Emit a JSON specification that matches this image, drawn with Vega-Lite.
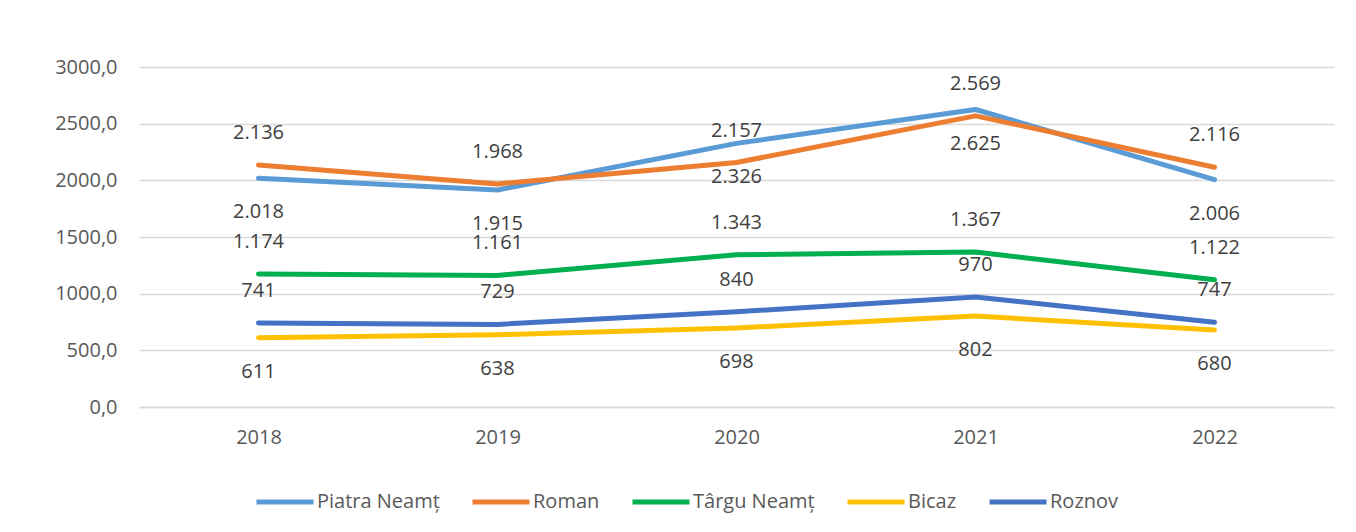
{
  "$schema": "https://vega.github.io/schema/vega-lite/v6.json",
  "width": 1195,
  "height": 340,
  "autosize": {"type": "none"},
  "padding": {"left": 139, "top": 67, "right": 22, "bottom": 125},
  "background": "white",
  "config": {
    "locale": {"number": {"decimal": ",", "thousands": ".", "grouping": [3], "currency": ["", ""]}},
    "view": {"stroke": null},
    "font": "Open Sans",
    "axis": {"labelFont": "Open Sans", "labelFontSize": 20, "labelColor": "#595959", "ticks": false, "title": null, "gridColor": "#D9D9D9", "gridWidth": 1.3}
  },
  "data": {
    "values": [
      {"series": "Piatra Neamț", "year": "2018", "value": 2018},
      {"series": "Piatra Neamț", "year": "2019", "value": 1915},
      {"series": "Piatra Neamț", "year": "2020", "value": 2326},
      {"series": "Piatra Neamț", "year": "2021", "value": 2625},
      {"series": "Piatra Neamț", "year": "2022", "value": 2006},
      {"series": "Roman", "year": "2018", "value": 2136},
      {"series": "Roman", "year": "2019", "value": 1968},
      {"series": "Roman", "year": "2020", "value": 2157},
      {"series": "Roman", "year": "2021", "value": 2569},
      {"series": "Roman", "year": "2022", "value": 2116},
      {"series": "Târgu Neamț", "year": "2018", "value": 1174},
      {"series": "Târgu Neamț", "year": "2019", "value": 1161},
      {"series": "Târgu Neamț", "year": "2020", "value": 1343},
      {"series": "Târgu Neamț", "year": "2021", "value": 1367},
      {"series": "Târgu Neamț", "year": "2022", "value": 1122},
      {"series": "Bicaz", "year": "2018", "value": 611},
      {"series": "Bicaz", "year": "2019", "value": 638},
      {"series": "Bicaz", "year": "2020", "value": 698},
      {"series": "Bicaz", "year": "2021", "value": 802},
      {"series": "Bicaz", "year": "2022", "value": 680},
      {"series": "Roznov", "year": "2018", "value": 741},
      {"series": "Roznov", "year": "2019", "value": 729},
      {"series": "Roznov", "year": "2020", "value": 840},
      {"series": "Roznov", "year": "2021", "value": 970},
      {"series": "Roznov", "year": "2022", "value": 747}
    ]
  },
  "encoding": {
    "x": {
      "field": "year", "type": "ordinal",
      "scale": {"type": "point", "padding": 0.5},
      "axis": {"labelAngle": 0, "labelPadding": 20, "domain": true, "domainColor": "#D9D9D9", "domainWidth": 1.3, "grid": false}
    },
    "y": {
      "field": "value", "type": "quantitative",
      "scale": {"domain": [0, 3000], "nice": false},
      "axis": {"values": [0, 500, 1000, 1500, 2000, 2500, 3000], "format": ".1f", "domain": false, "labelPadding": 22, "grid": true}
    }
  },
  "layer": [
    {
      "mark": {"type": "line", "strokeWidth": 5, "strokeCap": "round", "strokeJoin": "round"},
      "encoding": {
        "color": {
          "field": "series", "type": "nominal",
          "scale": {
            "domain": ["Piatra Neamț", "Roman", "Târgu Neamț", "Bicaz", "Roznov"],
            "range": ["#5B9BD5", "#ED7D31", "#00B050", "#FFC000", "#4472C4"]
          },
          "legend": {
            "orient": "none", "legendX": 115, "legendY": 404, "direction": "horizontal",
            "title": null, "symbolType": "stroke", "symbolSize": 3249, "symbolStrokeWidth": 5,
            "labelFont": "Open Sans", "labelFontSize": 20, "labelColor": "#595959", "labelOffset": 1,
            "columnPadding": 22, "padding": 0
          }
        }
      }
    },
    {
      "transform": [{"filter": {"field": "series", "oneOf": ["Roman", "Târgu Neamț", "Roznov"]}}],
      "mark": {"type": "text", "dy": -32, "fontSize": 20, "color": "#404040", "font": "Open Sans"},
      "encoding": {"text": {"field": "value", "type": "quantitative", "format": ",d"}}
    },
    {
      "transform": [{"filter": {"field": "series", "oneOf": ["Piatra Neamț", "Bicaz"]}}],
      "mark": {"type": "text", "dy": 34, "fontSize": 20, "color": "#404040", "font": "Open Sans"},
      "encoding": {"text": {"field": "value", "type": "quantitative", "format": ",d"}}
    }
  ]
}
